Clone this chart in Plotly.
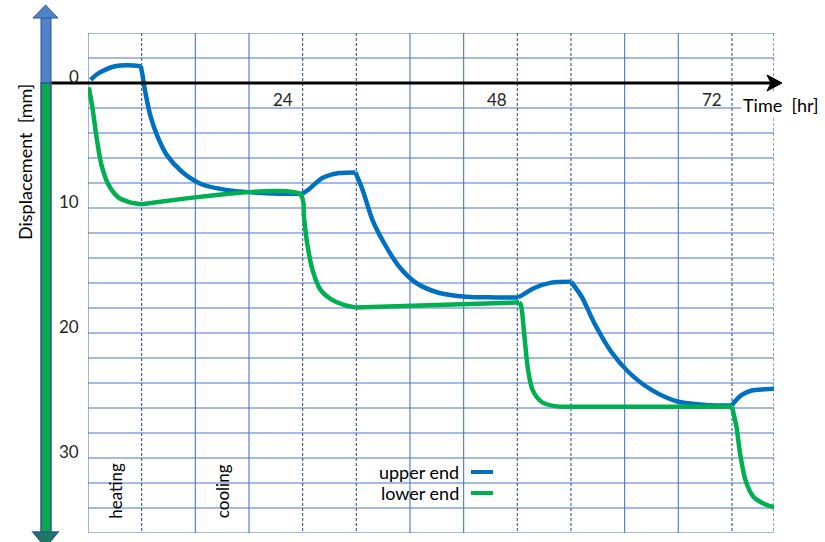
import plotly.graph_objects as go

# Displacement of the specimen ends over heating/cooling cycles
hours_upper = [0.3, 1.0, 1.9, 2.8, 3.6, 4.5, 5.9,
               6.1, 6.4, 6.95, 7.7, 8.8, 10.5, 12.7, 15.4, 18.3, 21.3, 24.0,
               24.7, 25.4, 26.2, 27.1, 28.1, 29.9,
               30.7, 31.8, 33.1, 34.8, 36.7, 39.3, 42.3, 45.6, 48.1,
               48.6, 49.9, 51.8, 54.0,
               55.2, 56.6, 58.5, 60.4, 63.0, 66.0, 69.0, 72.0,
               72.3, 73.1, 74.2, 75.7, 76.8]
disp_upper = [-0.25, -0.7, -1.05, -1.3, -1.4, -1.42, -1.35,
              -0.6, 0.7, 2.55, 4.15, 5.75, 7.1, 8.1, 8.55, 8.75, 8.85, 8.85,
              8.5, 8.05, 7.6, 7.35, 7.2, 7.15,
              8.55, 10.95, 12.8, 14.7, 16.0, 16.8, 17.1, 17.15, 17.15,
              16.95, 16.4, 15.97, 15.9,
              17.1, 19.2, 21.5, 23.1, 24.55, 25.5, 25.75, 25.8,
              25.5, 24.95, 24.6, 24.5, 24.45]

hours_lower = [0.1, 0.5, 0.97, 1.5, 2.3, 3.4, 4.7, 6.0,
               23.7,
               24.1, 24.5, 25.1, 26.0, 27.3, 28.6, 29.9,
               48.2,
               48.4, 48.8, 49.2, 49.7, 50.7, 52.2, 54.0,
               72.0,
               72.5, 72.9, 73.5, 74.4, 75.7, 76.8]
disp_lower = [0.35, 2.0, 4.4, 6.55, 8.15, 9.15, 9.55, 9.7,
              8.9,
              10.4, 12.8, 14.95, 16.55, 17.35, 17.75, 17.95,
              17.55,
              17.75, 20.3, 22.95, 24.55, 25.5, 25.85, 25.9,
              25.9,
              27.5, 29.6, 31.75, 33.1, 33.7, 33.95]

series_names = ["upper end", "lower end"]
series_colors = ["#0070C0", "#00B050"]

x_tick_labels = [24, 48, 72]
y_tick_labels = [0, 10, 20, 30]
phase_labels = [("heating", 3), ("cooling", 15)]

# heating/cooling switch times (dashed grid lines, curve corners)
dashed_hours = [6, 24, 30, 48, 54, 72]
solid_hours = [0, 12, 18, 36, 42, 60, 66]
X_END = 76.7
Y_TOP, Y_BOTTOM = -4, 36
grid_mm = list(range(Y_TOP, Y_BOTTOM + 1, 2))

W, H = 825, 542
L, R, T, B = 88, 51, 33, 9
PW, PH = W - L - R, H - T - B


def px(xp):
    return (xp - L) / PW


def py(yp):
    return (H - B - yp) / PH


def split_at_switches(hrs, vals):
    """Cut a series into pieces at the switch times; neighbours share the corner point."""
    cuts = sorted({min(range(len(hrs)), key=lambda i: abs(hrs[i] - s)) for s in dashed_hours})
    pieces, start = [], 0
    for c in cuts:
        if c > start:
            pieces.append((hrs[start:c + 1], vals[start:c + 1]))
            start = c
    pieces.append((hrs[start:], vals[start:]))
    return pieces


TEXT = "#262626"
FONT = "Lato"
GRID = "#4a76c8"
GRID_DASH = "#35579a"

fig = go.Figure()
for hrs, vals, name, col in [(hours_upper, disp_upper, series_names[0], series_colors[0]),
                             (hours_lower, disp_lower, series_names[1], series_colors[1])]:
    for seg_x, seg_y in split_at_switches(hrs, vals):
        fig.add_trace(go.Scatter(x=seg_x, y=seg_y, mode="lines", name=name,
                                 line=dict(color=col, width=4.5, shape="spline", smoothing=0.8),
                                 showlegend=False))

shapes = []
for g in grid_mm:
    shapes.append(dict(type="line", xref="x", yref="y", x0=0, x1=X_END, y0=g, y1=g,
                       line=dict(color=GRID, width=1.1), layer="below"))
for h in solid_hours:
    shapes.append(dict(type="line", xref="x", yref="y", x0=h, x1=h, y0=Y_TOP, y1=Y_BOTTOM,
                       line=dict(color=GRID, width=1.1), layer="below"))
for h in dashed_hours + [X_END]:
    shapes.append(dict(type="line", xref="x", yref="y", x0=h, x1=h, y0=Y_TOP, y1=Y_BOTTOM,
                       line=dict(color=GRID_DASH, width=1.1, dash="3px,2px"), layer="below"))

# black time axis with arrow head
shapes.append(dict(type="line", xref="paper", yref="paper", x0=px(50), x1=px(774),
                   y0=py(83), y1=py(83), line=dict(color="black", width=3)))
shapes.append(dict(type="path", xref="paper", yref="paper",
                   path=f"M {px(782)},{py(83)} L {px(767)},{py(75)} L {px(771)},{py(83)} "
                        f"L {px(767)},{py(91)} Z",
                   fillcolor="black", line=dict(color="black", width=1)))

# displacement arrow: blue above zero, green below
OUT = "#2f5597"
shapes.append(dict(type="rect", xref="paper", yref="paper", x0=px(41), x1=px(51),
                   y0=py(83), y1=py(17), fillcolor="#4e82c9", line=dict(color=OUT, width=1)))
shapes.append(dict(type="rect", xref="paper", yref="paper", x0=px(41), x1=px(51),
                   y0=py(533), y1=py(83), fillcolor="#0aa64c", line=dict(color=OUT, width=1.5)))
shapes.append(dict(type="path", xref="paper", yref="paper",
                   path=f"M {px(33)},{py(18)} L {px(58)},{py(18)} L {px(45.5)},{py(5)} Z",
                   fillcolor="#4e82c9", line=dict(color=OUT, width=1)))
shapes.append(dict(type="path", xref="paper", yref="paper",
                   path=f"M {px(33)},{py(532)} L {px(58)},{py(532)} L {px(45.5)},{py(547)} Z",
                   fillcolor="#1b7a5e", line=dict(color=OUT, width=1.5)))

# legend samples
for i, col in enumerate(series_colors):
    yy = py(472 + 21 * i)
    shapes.append(dict(type="line", xref="paper", yref="paper", x0=px(471), x1=px(493),
                       y0=yy, y1=yy, line=dict(color=col, width=4)))

ann = []
for v in y_tick_labels:
    ann.append(dict(xref="paper", yref="y", x=px(81), y=v, yshift=7, text=str(v),
                    showarrow=False, xanchor="right", yanchor="middle",
                    font=dict(family=FONT, size=17, color=TEXT)))
for v in x_tick_labels:
    ann.append(dict(xref="x", yref="y", x=v, y=0, xshift=-8, yshift=-16, text=str(v),
                    showarrow=False, xanchor="right", yanchor="middle",
                    font=dict(family=FONT, size=17, color=TEXT)))
ann.append(dict(xref="paper", yref="paper", x=px(741), y=py(105), text="Time  [hr]",
                showarrow=False, xanchor="left", yanchor="middle", bgcolor="white",
                font=dict(family=FONT, size=18, color="black")))
ann.append(dict(xref="paper", yref="paper", x=px(25), y=py(162), text="Displacement  [mm]",
                showarrow=False, textangle=-90, xanchor="center", yanchor="middle",
                font=dict(family=FONT, size=18, color="black")))
for i, name in enumerate(series_names):
    ann.append(dict(xref="paper", yref="paper", x=px(461), y=py(472 + 21 * i), text=name,
                    showarrow=False, xanchor="right", yanchor="middle",
                    font=dict(family=FONT, size=18, color="black")))
for name, hr in phase_labels:
    ann.append(dict(xref="x", yref="paper", x=hr, y=py(491), text=name,
                    showarrow=False, textangle=-90, xanchor="center", yanchor="middle",
                    font=dict(family=FONT, size=17, color="black")))

fig.update_layout(
    width=W, height=H,
    margin=dict(l=L, r=R, t=T, b=B),
    paper_bgcolor="white", plot_bgcolor="white",
    xaxis=dict(range=[0, X_END], showgrid=False, zeroline=False, showticklabels=False,
               showline=False, ticks=""),
    yaxis=dict(range=[Y_BOTTOM, Y_TOP], showgrid=False, zeroline=False, showticklabels=False,
               showline=False, ticks=""),
    shapes=shapes, annotations=ann, showlegend=False,
)

fig.write_html("out.html")
